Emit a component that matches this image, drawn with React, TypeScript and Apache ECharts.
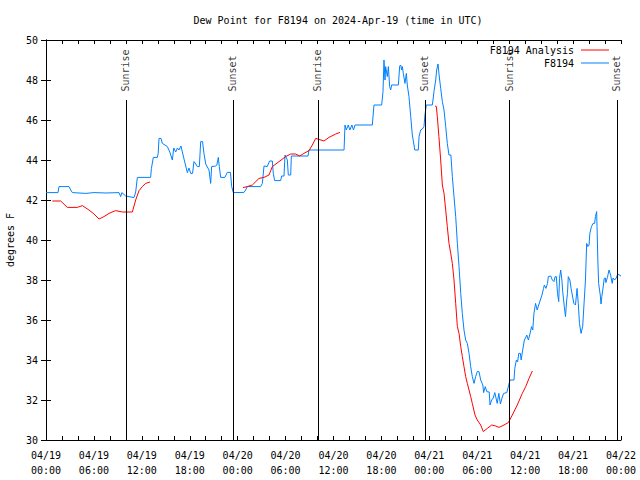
import React, { useEffect, useRef } from "react";
import * as echarts from "echarts";

// Observed dew point (F8194), hours since 2024-04-19 00:00 UTC
const obsHours = [
  0.0, 1.5, 1.63, 2.88, 3.1, 3.3, 5.0, 6.0, 7.5, 9.14, 9.35, 9.5, 9.98, 11.02, 11.23, 11.44, 13.1, 13.2, 13.44, 13.94,
  14.05, 14.15, 14.4, 14.57, 15.2, 15.5, 15.82, 16.0, 16.24, 16.45, 16.65, 16.9, 17.28, 17.7, 17.9, 18.12, 18.35, 18.53,
  18.75, 18.95, 19.2, 19.37, 19.6, 19.78, 20.0, 20.41, 20.62, 20.74, 21.25, 21.4, 21.58, 21.7, 21.87, 22.4, 22.7, 23.1,
  23.25, 23.46, 24.79, 25.0, 25.2, 26.88, 27.09, 27.3, 27.7, 28.0, 28.34, 28.46, 28.63, 29.38, 29.51, 29.8, 29.93, 30.22,
  30.34, 30.64, 30.72, 32.81, 32.93, 37.32, 37.44, 37.6, 37.85, 38.05, 38.3, 38.5, 38.7, 40.86, 41.07, 42.03, 42.2, 42.32,
  42.45, 42.53, 42.74, 42.87, 43.03, 43.16, 43.28, 44.12, 44.29, 44.41, 44.54, 44.62, 44.74, 44.95, 45.12, 45.24, 45.45,
  45.67, 45.87, 46.08, 46.17, 46.62, 46.71, 46.92, 47.12, 47.33, 47.45, 47.62, 48.37, 48.46, 48.58, 48.8, 48.92, 49.09,
  49.21, 49.42, 49.63, 49.84, 50.05, 50.25, 50.46, 50.7, 50.88, 51.09, 51.3, 51.51, 51.72, 51.93, 52.13, 52.34, 52.55,
  52.76, 52.97, 53.18, 53.38, 53.6, 53.8, 54.0, 54.22, 54.43, 54.7, 54.8, 55.0, 55.2, 55.5, 55.6, 55.8, 56.0, 56.2, 56.5,
  56.7, 56.9, 57.1, 57.3, 57.7, 58.1, 58.6, 58.7, 58.9, 59.05, 59.2, 59.4, 59.5, 59.65, 59.9, 60.05, 60.2, 60.4, 60.6,
  60.8, 60.95, 61.1, 61.3, 61.5, 61.9, 62.1, 62.3, 62.4, 62.6, 62.8, 62.9, 63.2, 63.4, 63.6, 63.75, 63.9, 64.05, 64.2,
  64.3, 64.45, 64.6, 64.7, 64.9, 65.05, 65.2, 65.3, 65.4, 65.6, 65.75, 65.9, 66.1, 66.3, 66.5, 66.55, 66.65, 66.8, 67.0,
  67.2, 67.4, 67.55, 67.7, 67.85, 68.0, 68.1, 68.3, 68.5, 68.7, 68.8, 68.95, 69.0, 69.1, 69.2, 69.4, 69.5, 69.6, 69.8,
  69.9, 70.05, 70.1, 70.3, 70.5, 70.7, 70.9, 71.0, 71.2, 71.4, 71.6, 72.0,
];
const obsDew = [
  42.37, 42.37, 42.67, 42.67, 42.5, 42.37, 42.33, 42.37, 42.35, 42.37, 42.17, 42.37, 42.2, 42.12, 42.4, 43.13, 43.13, 43.58, 44.13, 44.13,
  44.33, 45.08, 45.08, 44.83, 44.67, 44.4, 44.0, 44.6, 44.4, 44.6, 44.5, 44.7, 44.05, 43.37, 43.6, 43.33, 43.33, 43.92,
  43.8, 43.67, 43.67, 44.92, 44.92, 44.33, 43.8, 43.5, 42.83, 43.67, 43.7, 43.75, 44.13, 43.67, 43.13, 43.13, 43.38, 43.38,
  42.67, 42.37, 42.38, 42.5, 42.67, 42.67, 42.83, 43.7, 43.67, 43.95, 43.95, 43.33, 42.97, 42.97, 43.2, 43.2, 44.25, 44.0,
  43.25, 43.25, 44.2, 44.2, 44.5, 44.5, 45.75, 45.5, 45.75, 45.5, 45.75, 45.5, 45.75, 45.75, 46.75, 46.75, 47.42, 49.0,
  48.0, 48.67, 48.17, 48.67, 47.67, 47.5, 47.75, 47.75, 48.7, 48.75, 48.5, 48.67, 48.33, 47.83, 48.33, 47.75, 47.17,
  46.17, 45.25, 44.75, 44.5, 44.5, 45.17, 45.5, 45.55, 45.67, 46.25, 46.75, 46.75, 47.0, 47.42, 48.0, 48.5, 48.8,
  48.3, 47.58, 46.92, 46.5, 45.67, 44.83, 44.25, 44.25, 43.17, 42.17, 41.17, 39.83, 38.67, 37.33, 36.33, 35.5, 35.0,
  34.83, 34.33, 33.67, 33.17, 32.83, 33.17, 33.42, 33.42, 33.0, 32.75, 32.37, 32.67, 32.42, 32.4, 31.75, 32.0, 32.1, 32.37, 31.83,
  32.33, 31.8, 32.1, 32.33, 32.37, 33.0, 33.0, 33.58, 34.0, 33.9, 34.33, 34.33, 34.0, 34.4, 35.0, 35.1, 35.25, 35.0, 35.3,
  35.67, 35.5, 36.33, 36.83, 36.5, 37.0, 37.25, 37.58, 37.75, 37.58, 37.83, 38.17, 38.2, 38.0, 37.92, 38.17, 38.17, 37.33, 36.92,
  38.08, 38.5, 38.0, 37.42, 36.67, 36.17, 37.0, 37.33, 38.17, 38.0, 37.58, 37.25, 36.83, 36.75, 37.58, 37.33, 36.83, 35.83, 35.33,
  35.67, 37.0, 38.0, 39.83, 39.67, 39.75, 40.33, 40.67, 40.83, 40.83, 41.17, 41.42, 40.67, 39.0, 37.83, 37.25, 36.8, 37.17, 37.75,
  38.08, 38.1, 37.87, 38.13, 38.5, 38.25, 37.83, 38.1, 38.0, 38.1, 38.3, 38.2,
];

// Analysis dew point (F8194 Analysis); null marks a gap
const anaHours = [
  0.79, 1.84, 2.67, 3.92, 4.55, 5.38, 6.01, 6.64, 7.26, 7.89, 8.72, 9.56, 10.81, 11.23, 11.65, 12.06, 12.48, 13.02,
  18.0,
  24.67, 25.2, 25.84, 26.67, 27.3, 27.92, 28.34, 29.18, 30.01, 30.64, 31.26, 31.77, 32.3, 32.93, 33.35, 33.77, 34.18,
  34.81, 35.44, 36.27, 36.81,
  42.0,
  48.71, 48.88, 49.0, 49.2, 49.42, 49.63, 49.84, 50.05, 50.25, 50.46, 50.68, 50.88, 51.09, 51.3, 51.51, 51.72, 51.93,
  52.13, 52.34, 52.55, 52.76, 52.97, 53.18, 53.38, 53.72, 54.0, 54.43, 54.76, 55.26, 55.81, 56.31, 56.72, 57.35, 57.89,
  58.39, 59.01, 59.64, 60.07, 60.48, 60.9,
];
const anaDew = [
  41.95, 41.95, 41.63, 41.63, 41.72, 41.5, 41.3, 41.05, 41.17, 41.33, 41.47, 41.4, 41.4, 42.0, 42.47, 42.67, 42.83, 42.9,
  null,
  42.62, 42.67, 42.75, 43.08, 43.13, 43.25, 43.67, 43.92, 44.17, 44.3, 44.3, 44.2, 44.33, 44.47, 44.75, 45.08, 45.03,
  44.95, 45.13, 45.3, 45.38,
  null,
  46.7, 46.67, 46.17, 45.17, 44.0, 42.75, 42.33, 41.5, 40.67, 39.83, 39.33, 38.83, 38.0, 36.83, 35.67, 35.33, 34.67,
  34.17, 33.67, 33.17, 32.83, 32.5, 32.17, 31.83, 31.25, 31.0, 30.75, 30.42, 30.58, 30.75, 30.7, 30.63, 30.75, 30.87,
  31.25, 31.75, 32.33, 32.67, 33.08, 33.45,
];

// Sun events (hours since start)
const sunHours = [10.0, 23.47, 34.07, 47.5, 58.05, 71.56];
const sunLabels = ["Sunrise", "Sunset", "Sunrise", "Sunset", "Sunrise", "Sunset"];
const sunLineTop = 47.0;
const sunLabelAt = 47.4;

const FONT = "DejaVu Sans Mono";

export default function App() {
  const ref = useRef<HTMLDivElement>(null);
  useEffect(() => {
    if (!ref.current) return;
    const chart = echarts.init(ref.current, null, { renderer: "svg" });
    const pad = (n: number) => (n < 10 ? "0" + n : "" + n);
    const xFmt = (v: number) => {
      const d = 19 + Math.floor(v / 24);
      const h = v % 24;
      return "04/" + d + "\n" + pad(h) + ":00";
    };
    const axisLine = { show: true, lineStyle: { color: "#000", width: 1 } };
    const xCommon = {
      type: "value" as const,
      min: 0,
      max: 72,
      interval: 6,
      axisLine,
      axisTick: { show: true, inside: true, length: 4, lineStyle: { color: "#000" } },
      minorTick: { show: true, splitNumber: 3, length: 4, lineStyle: { color: "#000" } },
      splitLine: { show: false },
      minorSplitLine: { show: false },
    };
    const yCommon = {
      type: "value" as const,
      min: 30,
      max: 50,
      interval: 2,
      axisLine,
      axisTick: { show: true, inside: true, length: 5, lineStyle: { color: "#000" } },
      splitLine: { show: false },
    };
    const legendCommon = {
      right: 26,
      align: "right" as const,
      icon: "rect",
      itemWidth: 28,
      itemHeight: 1,
      textStyle: { fontFamily: FONT, fontSize: 10, color: "#000", padding: [0, 2, 0, 0] },
    };
    chart.setOption({
      animation: false,
      backgroundColor: "#fff",
      title: {
        text: "Dew Point for F8194 on 2024-Apr-19 (time in UTC)",
        left: 333,
        textAlign: "center",
        top: 10,
        textStyle: { fontFamily: FONT, fontSize: 10, fontWeight: "normal", color: "#000" },
      },
      legend: [
        { ...legendCommon, data: ["F8194 Analysis"], top: 40 },
        { ...legendCommon, data: ["F8194"], top: 53 },
      ],
      grid: { left: 46, right: 19, top: 40, bottom: 40, outerBoundsMode: "none", containLabel: false },
      xAxis: [
        {
          ...xCommon,
          position: "bottom",
          axisLabel: {
            formatter: xFmt,
            fontFamily: FONT,
            fontSize: 10,
            color: "#000",
            margin: 8,
            lineHeight: 15,
          },
        },
        { ...xCommon, position: "top", axisLabel: { show: false } },
      ],
      yAxis: [
        {
          ...yCommon,
          position: "left",
          name: "degrees F",
          nameLocation: "middle",
          nameGap: 31,
          nameTextStyle: { fontFamily: FONT, fontSize: 10, color: "#000" },
          axisLabel: { fontFamily: FONT, fontSize: 10, color: "#000", margin: 8 },
        },
        { ...yCommon, position: "right", axisLabel: { show: false } },
      ],
      series: [
        {
          name: "F8194 Analysis",
          type: "line",
          data: anaHours.map((h, i) => [h, anaDew[i] === null ? "-" : anaDew[i]]),
          symbol: "none",
          connectNulls: false,
          lineStyle: { color: "#ff0000", width: 1 },
          itemStyle: { color: "#ff0000" },
          z: 3,
        },
        {
          name: "F8194",
          type: "line",
          data: obsHours.map((h, i) => [h, obsDew[i]]),
          symbol: "none",
          lineStyle: { color: "#0080ff", width: 1 },
          itemStyle: { color: "#0080ff" },
          z: 2,
        },
        {
          name: "sun",
          type: "scatter",
          data: sunHours.map((h, i) => ({ value: [h, sunLabelAt], name: sunLabels[i] })),
          symbolSize: 1,
          itemStyle: { color: "rgba(0,0,0,0)" },
          silent: true,
          label: {
            show: true,
            formatter: "{b}",
            position: [0, 0],
            align: "left",
            verticalAlign: "middle",
            rotate: 90,
            fontFamily: FONT,
            fontSize: 10,
            color: "#000",
          },
          markLine: {
            silent: true,
            symbol: ["none", "none"],
            label: { show: false },
            lineStyle: { color: "#000", width: 1, type: "solid" },
            data: sunHours.map((h) => [{ coord: [h, 30] }, { coord: [h, sunLineTop] }]),
          },
          z: 1,
        },
      ],
    });
    return () => chart.dispose();
  }, []);
  return (
    <div
      ref={ref}
      style={{ position: "fixed", left: 0, top: 0, width: 640, height: 480, background: "#fff" }}
    />
  );
}
